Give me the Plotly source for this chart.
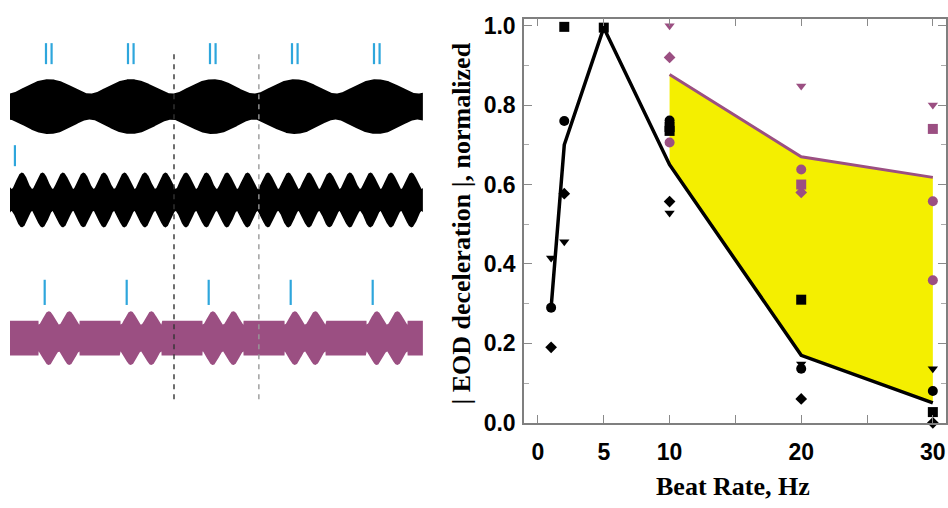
import numpy as np
import plotly.graph_objects as go

# ---------------- data: right panel ----------------
line_rates = [1, 2, 5, 10, 20, 30]
line_black = [0.29, 0.70, 0.995, 0.65, 0.17, 0.05]
purple_rates = [10, 20, 30]
line_purple = [0.877, 0.67, 0.618]

blk_sq_x = [2, 5, 10, 10, 20, 30]
blk_sq_y = [0.997, 0.995, 0.745, 0.735, 0.31, 0.027]
blk_ci_x = [1, 2, 10, 20, 30]
blk_ci_y = [0.29, 0.76, 0.761, 0.136, 0.08]
blk_tr_x = [1, 2, 10, 20, 30]
blk_tr_y = [0.415, 0.456, 0.528, 0.148, 0.136]
blk_di_x = [1, 2, 10, 20, 30]
blk_di_y = [0.19, 0.577, 0.557, 0.06, 0.0]

pur_tr_x = [10, 20, 30]
pur_tr_y = [1.0, 0.848, 0.80]
pur_di_x = [10, 20]
pur_di_y = [0.92, 0.58]
pur_ci_x = [10, 20, 30, 30]
pur_ci_y = [0.706, 0.638, 0.558, 0.359]
pur_sq_x = [20, 30]
pur_sq_y = [0.60, 0.74]

x_ticks = [0, 5, 10, 15, 20, 25, 30]
x_ticktext = ["0", "5", "10", "", "20", "", "30"]

# ---------------- data: left panel (stimulus illustration) ----------------
duration_s = 1.007
beat_slow_hz = 5.0
beat_fast_hz = 20.0
slow_peak_t = 0.0946
fast_peak_t = 0.029
amp_slow = [21.0, 7.5]     # carrier / interferer amplitudes
amp_fast = [20.0, 8.5]
amp_mixed = [21.0, 7.0]
amp_mixed_base = 18.0
burst_cycles = 2
dashed_t = [0.400, 0.607]

PURPLE = "#9B4F82"
YELLOW = "#F4EF00"
BLUE = "#2EA6DC"

fig = go.Figure()

# ---------------- left panel ----------------
t = np.linspace(0, duration_s, 4000)

def envelope(tt, a1, a2, f, tp):
    return np.sqrt(a1**2 + a2**2 + 2*a1*a2*np.cos(2*np.pi*f*(tt - tp)))

env_top = envelope(t, amp_slow[0], amp_slow[1], beat_slow_hz, slow_peak_t)
env_mid = envelope(t, amp_fast[0], amp_fast[1], beat_fast_hz, fast_peak_t)

fast_period_frac = beat_slow_hz / beat_fast_hz
gate = (((t - slow_peak_t + 0.5/beat_fast_hz) * beat_slow_hz) % 1.0) < burst_cycles*fast_period_frac
env_pur = np.where(gate,
                   envelope(t, amp_mixed[0], amp_mixed[1], beat_fast_hz, slow_peak_t),
                   amp_mixed_base)

centers = [104.5, 201.5, 345.0]
colors = ["black", "black", PURPLE]
for env, c, col in zip([env_top, env_mid, env_pur], centers, colors):
    fig.add_trace(go.Scatter(
        x=np.concatenate([t, t[::-1]]),
        y=np.concatenate([c - env, (c + env)[::-1]]),
        fill="toself", fillcolor=col, mode="lines", line=dict(width=0, color=col),
        xaxis="x2", yaxis="y2", hoverinfo="skip"))

# markers above the waves
px_per_s = 410.0
dx = 2.8 / px_per_s
peaks_slow = [slow_peak_t + k/beat_slow_hz for k in range(5)]
bx = [p - dx for p in peaks_slow] + [p + dx for p in peaks_slow]
fig.add_trace(go.Scatter(x=bx, y=[49.5]*len(bx), mode="markers", xaxis="x2", yaxis="y2",
                         marker=dict(symbol="line-ns", size=15, line=dict(width=2.2, color=BLUE))))
fig.add_trace(go.Scatter(x=[0.012], y=[155.5], mode="markers", xaxis="x2", yaxis="y2",
                         marker=dict(symbol="line-ns", size=15, line=dict(width=2.2, color=BLUE))))
fig.add_trace(go.Scatter(x=[p - 0.010 for p in peaks_slow], y=[297.5]*5, mode="markers",
                         xaxis="x2", yaxis="y2",
                         marker=dict(symbol="line-ns", size=18, line=dict(width=2.2, color=BLUE))))

shapes = []
for tt, col in zip(dashed_t, ["#333333", "#999999"]):
    shapes.append(dict(type="line", xref="x2", yref="y2", x0=tt, x1=tt, y0=50, y1=413,
                       line=dict(color=col, width=1.4, dash="5px,5px")))

# ---------------- right panel ----------------
fx = [r for r in line_rates if r >= 10]
fy_black = [v for r, v in zip(line_rates, line_black) if r >= 10]
fig.add_trace(go.Scatter(x=purple_rates + fx[::-1], y=line_purple + fy_black[::-1],
                         fill="toself", fillcolor=YELLOW, mode="lines",
                         line=dict(width=0, color=YELLOW), hoverinfo="skip"))
fig.add_trace(go.Scatter(x=line_rates, y=line_black, mode="lines",
                         line=dict(color="black", width=3.5)))
fig.add_trace(go.Scatter(x=purple_rates, y=line_purple, mode="lines",
                         line=dict(color=PURPLE, width=3)))

def pts(x, y, sym, col, size):
    fig.add_trace(go.Scatter(x=x, y=y, mode="markers", cliponaxis=False,
                             marker=dict(symbol=sym, color=col, size=size, line=dict(width=0))))

pts(blk_sq_x, blk_sq_y, "square", "black", 10)
pts(blk_ci_x, blk_ci_y, "circle", "black", 10)
pts(blk_tr_x, blk_tr_y, "triangle-down", "black", 9)
pts(blk_di_x, blk_di_y, "diamond", "black", 9)
pts(pur_tr_x, pur_tr_y, "triangle-down", PURPLE, 9)
pts(pur_di_x, pur_di_y, "diamond", PURPLE, 9)
pts(pur_ci_x, pur_ci_y, "circle", PURPLE, 10)
pts(pur_sq_x, pur_sq_y, "square", PURPLE, 10)

W, H = 948, 508
tickfont = dict(family="Liberation Sans", size=23, color="black", weight="bold")
axis_common = dict(showline=True, linecolor="#7f7f7f", linewidth=1.5, mirror="ticks",
                   ticks="inside", tickcolor="#8a8a8a", tickwidth=1.2, ticklen=8,
                   showgrid=False, zeroline=False, tickfont=tickfont)

fig.update_layout(
    width=W, height=H, margin=dict(l=0, r=0, t=0, b=0),
    paper_bgcolor="white", plot_bgcolor="white", showlegend=False,
    shapes=shapes,
    xaxis=dict(domain=[524/W, 946/W], range=[-1.06, 31.0], tickvals=x_ticks,
               ticktext=x_ticktext, anchor="y", ticklabelstandoff=8, **axis_common),
    yaxis=dict(domain=[1-433/H, 1-13/H], range=[0, 1.018], dtick=0.2, tick0=0,
               tickformat=".1f", anchor="x", ticklabelstandoff=2,
               minor=dict(dtick=0.1, ticks="inside", ticklen=5, tickcolor="#aaaaaa"),
               **axis_common),
    xaxis2=dict(domain=[0, 455/W], range=[-10/px_per_s, 445/px_per_s], visible=False,
                anchor="y2"),
    yaxis2=dict(domain=[0, 1], range=[H, 0], visible=False, anchor="x2"),
    annotations=[
        dict(text="| EOD deceleration |, normalized", x=462/W, y=1-226/H, xref="paper",
             yref="paper", textangle=-90, showarrow=False, xanchor="center", yanchor="middle",
             font=dict(family="Liberation Serif", size=26, color="black", weight="bold")),
        dict(text="Beat Rate, Hz", x=733/W, y=1-499/H, xref="paper", yref="paper",
             showarrow=False, xanchor="center", yanchor="middle",
             font=dict(family="Liberation Serif", size=26, color="black", weight="bold")),
    ],
)

fig.write_html("out.html")
